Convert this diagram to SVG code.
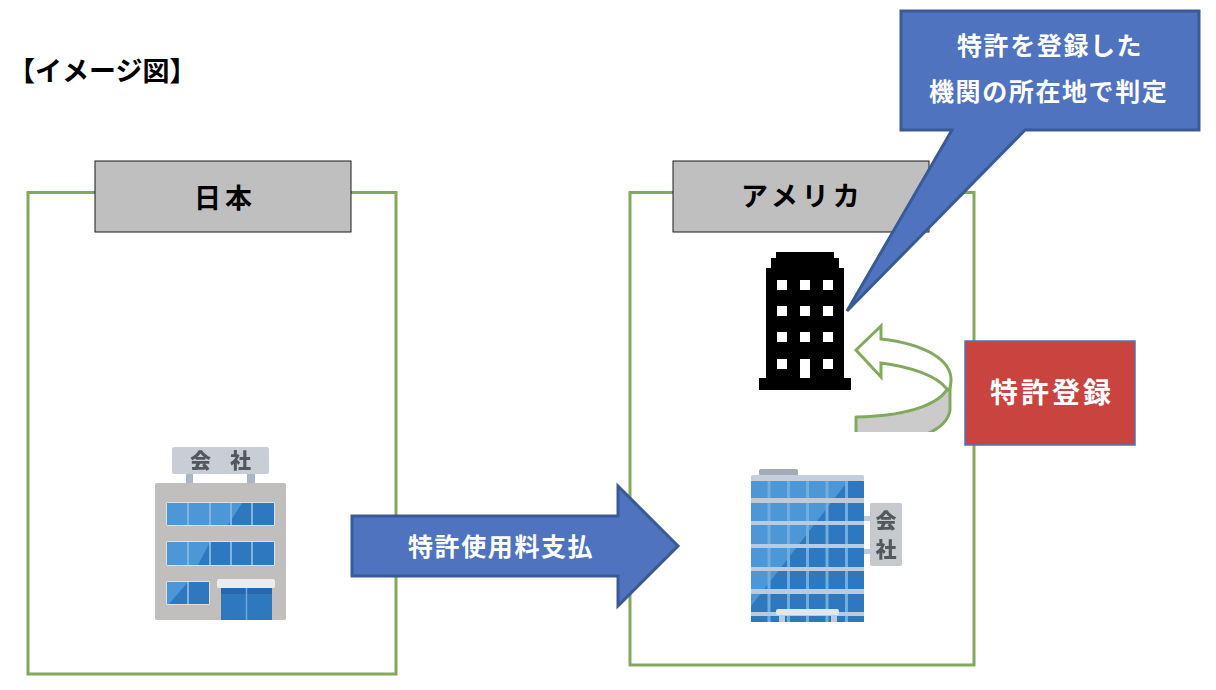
<svg xmlns="http://www.w3.org/2000/svg" width="1216" height="690" viewBox="0 0 1216 690">
<style>
text{font-family:"Noto Sans CJK JP","Noto Sans",sans-serif;font-weight:700}
.area{fill:none;stroke:#82A95C;stroke-width:3}
.tab{fill:#BFBFBF;stroke:#1a1a1a;stroke-width:1}
.tabt{font-size:27px;fill:#000;letter-spacing:4px}
.wt{font-size:25px;fill:#fff;letter-spacing:1.600px}
.blue{fill:#4F73BE;stroke:#3A5A96;stroke-width:3}
.win{fill:#fff}
.sign{font-size:21px;fill:#53585d;font-weight:900}
</style>
<defs>
<filter id="soft" x="-5%" y="-5%" width="110%" height="110%"><feGaussianBlur stdDeviation="0.6"/></filter>
<clipPath id="bandclip"><rect x="850" y="320" width="110" height="112"/></clipPath>
</defs>
<rect width="1216" height="690" fill="#fff"/>
<text id="heading" x="8" y="81" font-size="27" fill="#000">【イメージ図】</text>

<g id="japan">
<rect class="area" x="28" y="192.500" width="368" height="481.500"/>
<rect class="tab" x="95" y="161" width="256" height="71"/>
<text class="tabt" x="194" y="208">日本</text>
</g>
<g id="usa">
<rect class="area" x="630" y="192.500" width="344" height="472.500"/>
<rect class="tab" x="673" y="161" width="256" height="71"/>
<text class="tabt" x="741" y="206">アメリカ</text>
</g>

<g id="office-japan" filter="url(#soft)">
<rect x="186" y="473" width="7" height="11" fill="#a9b6c6"/>
<rect x="247" y="473" width="8" height="11" fill="#a9b6c6"/>
<rect x="172" y="447" width="97" height="27" rx="2" fill="#c9ced6"/>
<text class="sign" x="190" y="468">会</text>
<text class="sign" x="230" y="468">社</text>
<rect x="155" y="483" width="131" height="137" rx="2" fill="#c0bfbd"/>
<rect x="166" y="502" width="109" height="24" rx="2" fill="#dfe2e5"/>
<rect x="167" y="503" width="107" height="22" fill="#2F78C0"/>
<polygon points="167,503 242,503 228,525 167,525" fill="#4E97D6"/>
<path d="M188,503v22M210,503v22M231,503v22M252,503v22" stroke="#7FB4E0" stroke-width="2"/>
<rect x="166" y="541" width="109" height="25" rx="2" fill="#dfe2e5"/>
<rect x="167" y="542" width="107" height="23" fill="#2F78C0"/>
<polygon points="167,542 210,542 198,565 167,565" fill="#4E97D6"/>
<path d="M188,542v23M210,542v23M231,542v23M252,542v23" stroke="#7FB4E0" stroke-width="2"/>
<rect x="166" y="581" width="44" height="24" rx="2" fill="#dfe2e5"/>
<rect x="167" y="582" width="42" height="22" fill="#2F78C0"/>
<polygon points="167,582 188,582 169,604 167,604" fill="#4E97D6"/>
<path d="M188,582v22" stroke="#7FB4E0" stroke-width="2"/>
<rect x="221" y="586" width="51" height="34" fill="#2F78C0"/>
<rect x="221" y="588" width="51" height="6" fill="#2567AE"/>
<path d="M246.500,588v32" stroke="#6FA8DA" stroke-width="1.500"/>
<rect x="217" y="579" width="58" height="9" rx="2" fill="#ececec"/>
</g>

<g id="office-usa" filter="url(#soft)">
<rect x="759" y="469" width="39" height="7" rx="2" fill="#a3abb8"/>
<rect x="751" y="481" width="113" height="141" fill="#2F78C0"/>
<polygon points="751,481 848,481 751,606" fill="#4E97D6"/>
<path d="M769,481V622M788.500,481V622M807.500,481V622M827,481V622M846.500,481V622" stroke="#6FAEE0" stroke-width="3"/>
<rect x="751" y="475" width="113" height="6" rx="1.500" fill="#c3cede"/>
<g fill="#bccadd">
<rect x="751" y="498" width="113" height="5"/>
<rect x="751" y="521" width="113" height="4"/>
<rect x="751" y="544" width="113" height="4"/>
<rect x="751" y="567" width="113" height="4"/>
<rect x="751" y="589" width="113" height="5"/>
<rect x="751" y="612" width="113" height="4"/>
<rect x="864" y="516" width="6" height="5"/>
<rect x="864" y="549" width="6" height="5"/>
<rect x="779" y="614" width="6" height="8"/>
<rect x="831" y="614" width="6" height="8"/>
</g>
<rect x="776" y="609" width="63" height="6" rx="2" fill="#e2e8f0"/>
<rect x="870" y="503" width="32" height="63" rx="2" fill="#c6cacd"/>
<text class="sign" x="875.500" y="528">会</text>
<text class="sign" x="875.500" y="557">社</text>
</g>

<g id="registry">
<path d="M776,252H834V258H839V268H844V378H851V390H759V378H766V268H771V258H776Z" fill="#000"/>
<g class="win">
<rect x="777" y="280" width="10" height="10"/><rect x="800" y="280" width="10" height="10"/><rect x="823" y="280" width="10" height="10"/>
<rect x="777" y="306" width="10" height="10"/><rect x="800" y="306" width="10" height="10"/><rect x="823" y="306" width="10" height="10"/>
<rect x="777" y="332" width="10" height="10"/><rect x="800" y="332" width="10" height="10"/><rect x="823" y="332" width="10" height="10"/>
<rect x="777" y="359" width="10" height="10"/><rect x="800" y="359" width="10" height="19"/><rect x="823" y="359" width="10" height="10"/>
</g>
</g>

<g id="connectors">
<g id="payment-arrow">
<polygon class="blue" points="352,516 618,516 618,486 678,546 618,606 618,576 352,576"/>
<text class="wt" x="408" y="556">特許使用料支払</text>
</g>
<g id="registration-arrow" clip-path="url(#bandclip)">
<path d="M856,417C910,416 947,403 950,381V410C947,432 910,445 856,446Z" fill="#CBCBCB" stroke="#82A95C" stroke-width="3" stroke-linejoin="round"/>
<path d="M856,350L881,326V339C925,344 952,360 951,381C950,390 949,392 947,389C937,376 912,367 881,363V377Z" fill="#fff" stroke="#82A95C" stroke-width="3" stroke-linejoin="miter"/>
</g>
</g>

<g id="registration">
<rect x="965" y="341" width="170" height="104" fill="#C9443F" stroke="#4F73BE" stroke-width="1.500"/>
<text x="990" y="403" font-size="28" fill="#fff" letter-spacing="3">特許登録</text>
</g>

<g id="callout">
<polygon class="blue" points="901,11 1199,11 1199,130 1025,130 847,311 952,130 901,130"/>
<text class="wt" x="957" y="55">特許を登録した</text>
<text class="wt" x="929" y="101" letter-spacing="2">機関の所在地で判定</text>
</g>
</svg>
